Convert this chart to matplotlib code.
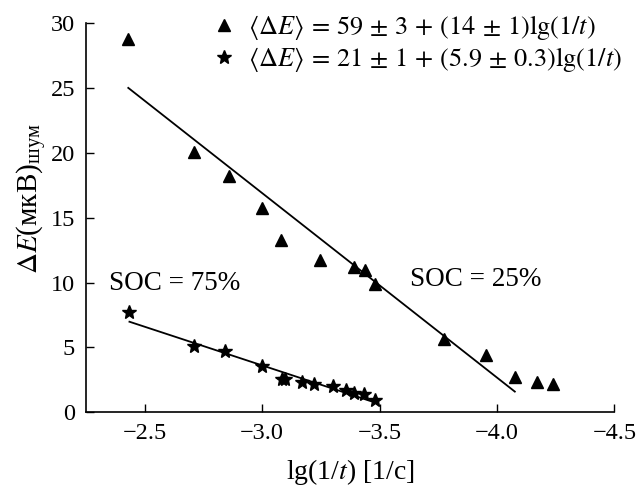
import matplotlib
matplotlib.use("Agg")
import matplotlib.pyplot as plt
import numpy as np

plt.rcParams['font.family'] = ['Liberation Serif', 'DejaVu Serif']
plt.rcParams['mathtext.fontset'] = 'stix'

# SOC = 25% (triangles)
x_soc25 = [-2.43, -2.71, -2.86, -3.00, -3.08, -3.245, -3.39, -3.44, -3.48,
           -3.775, -3.955, -4.075, -4.17, -4.24]
y_soc25 = [28.8, 20.05, 18.2, 15.75, 13.3, 11.75, 11.2, 11.0, 9.9,
           5.65, 4.45, 2.7, 2.3, 2.15]
# SOC = 75% (stars)
x_soc75 = [-2.435, -2.71, -2.84, -3.00, -3.083, -3.097, -3.17, -3.22, -3.30,
           -3.355, -3.39, -3.435, -3.48]
y_soc75 = [7.7, 5.1, 4.75, 3.57, 2.55, 2.55, 2.3, 2.2, 2.05, 1.75, 1.47, 1.38, 0.95]

# fitted lines: <dE> = a + b*lg(1/t)
fit25_a, fit25_b = 59.6, 14.23
fit25_x = [-2.43, -4.076]
fit75_a, fit75_b = 21.5, 5.96
fit75_x = [-2.435, -3.49]

xticks = [-2.5, -3.0, -3.5, -4.0, -4.5]
xticklabels = ['\u22122.5', '\u22123.0', '\u22123.5', '\u22124.0', '\u22124.5']
yticks = [0, 5, 10, 15, 20, 25, 30]

fig = plt.figure(figsize=(6.38, 4.86), dpi=100)
ax = fig.add_axes([0.1348, 0.1516, 0.963 - 0.1348, 0.952 - 0.1516])

l1, = ax.plot(x_soc25, y_soc25, '^', color='black', ms=9, linestyle='none')
l2, = ax.plot(x_soc75, y_soc75, '*', color='black', ms=10, linestyle='none')

fx = np.array(fit25_x)
ax.plot(fx, fit25_a + fit25_b * fx, color='black', lw=1.3)
fx = np.array(fit75_x)
ax.plot(fx, fit75_a + fit75_b * fx, color='black', lw=1.3)

ax.set_xlim(-2.25, -4.5)
ax.set_ylim(0, 30)
ax.set_xticks(xticks)
ax.set_xticklabels(xticklabels)
ax.set_yticks(yticks)
ax.tick_params(direction='in', length=6, width=1, labelsize=17.5, pad=8)
for s in ['top', 'right']:
    ax.spines[s].set_visible(False)
for s in ['left', 'bottom']:
    ax.spines[s].set_linewidth(1.2)

ax.set_xlabel(r'lg(1/$t$) [1/с]', fontsize=20, labelpad=9)
ax.set_ylabel(r'$\Delta E$(мкВ)$_{\mathregular{шум}}$', fontsize=21)
ax.yaxis.set_label_coords(-0.07, 0.55)

ax.text(-2.346, 9.97, 'SOC = 75%', fontsize=19.5, va='center')
ax.text(-3.628, 10.28, 'SOC = 25%', fontsize=19.5, va='center')

fig.legend([l1, l2],
           [r'$\langle\Delta E\rangle\,=\,59\,\pm\,3\,+\,(14\,\pm\,1)\mathrm{lg}(1/t)$',
            r'$\langle\Delta E\rangle\,=\,21\,\pm\,1\,+\,(5.9\,\pm\,0.3)\mathrm{lg}(1/t)$'],
           loc='upper left', bbox_to_anchor=(0.31, 1.0), frameon=False,
           fontsize=19, handlelength=1.0, handletextpad=0.4, borderpad=0,
           labelspacing=0.1)

fig.savefig('out.png', dpi=100)
